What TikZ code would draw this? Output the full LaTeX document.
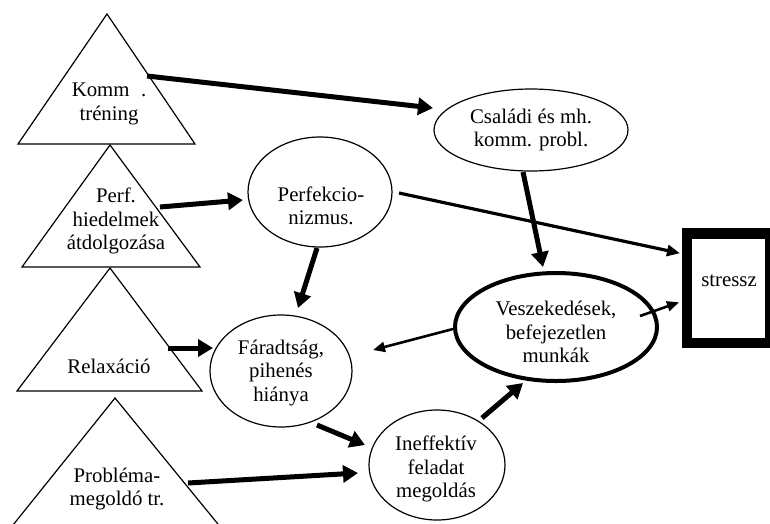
\documentclass[tikz,border=0pt]{standalone}
\usepackage{fontspec}
\setmainfont{Liberation Serif}
\usetikzlibrary{arrows.meta,shapes.geometric,calc}
\begin{document}
\begin{tikzpicture}[x=1pt,y=-1pt,
  txt/.style={align=center,font=\fontsize{20.8}{23.5}\selectfont,inner sep=0pt},
  ell/.style={draw,ellipse,line width=1.2pt,inner sep=0pt},
  tri/.style={draw,line width=1.2pt},
  big/.style={line width=5pt,-{Triangle[length=15pt,width=17pt]}},
  mid/.style={line width=3.2pt,-{Triangle[length=13pt,width=11pt]}},
  small/.style={line width=2.6pt,-{Triangle[length=12pt,width=10pt]}}]
\useasboundingbox (0,0) rectangle (770,523);
% triangles
\draw[tri] (107,14) -- (195,144) -- (18,144) -- cycle;
\draw[tri] (110,145) -- (200,267) -- (22,267) -- cycle;
\draw[tri] (110,268) -- (202,391) -- (17,391) -- cycle;
\draw[tri] (115,398) -- (231,540) -- (1,540) -- cycle;
\node[txt] (k) at (109,104) {Komm\hspace{0.55em}.\\tréning};
\node[txt] (p) at (116,221) {Perf.\\hiedelmek\\átdolgozása};
\node[txt] (r) at (109,366) {Relaxáció};
\node[txt] (pr) at (117,489) {Probléma-\\megoldó tr.};
\coordinate (s1) at (147,76);
\coordinate (s2) at (160,207);
\coordinate (s8) at (168,348);
\coordinate (s10) at (188,483);
% ellipses
\node[ell,minimum width=194pt,minimum height=82pt] (cs) at (531,130) {};
\node[txt] (cst) at (531,130) {Családi és mh.\\komm. probl.};
\node[ell,minimum width=144pt,minimum height=110pt] (pf) at (320,192) {};
\node[txt] (pft) at (321,206) {Perfekcio-\\nizmus.};
\node[ell,minimum width=142pt,minimum height=112pt] (fa) at (281,371) {};
\node[txt] (fat) at (281,373) {Fáradtság,\\pihenés\\hiánya};
\node[ell,line width=4pt,minimum width=202pt,minimum height=108pt] (ve) at (556,327) {};
\node[txt] (vet) at (556,332) {Veszekedések,\\befejezetlen\\munkák};
\node[ell,minimum width=136pt,minimum height=110pt] (in) at (437,465) {};
\node[txt] (int) at (436,469) {Ineffektív\\feladat\\megoldás};
% stress box
\node[draw,line width=10.5pt,minimum width=83pt,minimum height=109.5pt,inner sep=0pt] (st) at (728.5,288.25) {};
\node[txt] (stt) at (729,281) {stressz};
% arrows
\draw[big] (s1) -- ([shift={(-98,-22)}]cs.center);
\draw[big] (s2) -- ([shift={(-77,8)}]pf.center);
\draw[mid] ([shift={(79,1)}]pf.center) -- ([shift={(-48.5,-35)}]st.center);
\draw[big] ([shift={(-3,56)}]pf.center) -- ([shift={(17,-63)}]fa.center);
\draw[big] ([shift={(-8,42)}]cs.center) -- ([shift={(-13,-60)}]ve.center);
\draw[small] ([shift={(84,-11)}]ve.center) -- ([shift={(-49.5,14)}]st.center);
\draw[small] ([shift={(-103,2)}]ve.center) -- ([shift={(92,-21)}]fa.center);
\draw[big] (s8) -- ([shift={(-68,-23)}]fa.center);
\draw[big] ([shift={(36,54)}]fa.center) -- ([shift={(-72,-20)}]in.center);
\draw[big] (s10) -- ([shift={(-79,8)}]in.center);
\draw[big] ([shift={(45,-47)}]in.center) -- ([shift={(-33,56)}]ve.center);
\end{tikzpicture}
\end{document}
